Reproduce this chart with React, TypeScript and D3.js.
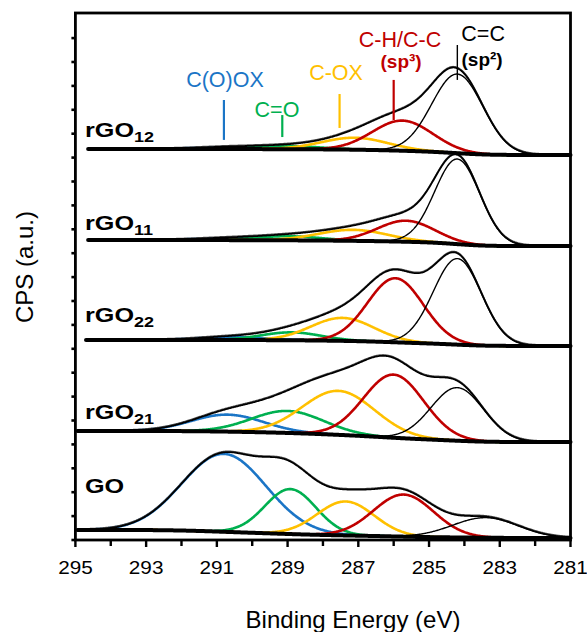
import React from 'react';
import * as d3 from 'd3';

const W = 587;
const H = 632;

// ---- axes data ----
const xDomain = [295, 281];
const xTickValues = [295, 294, 293, 292, 291, 290, 289, 288, 287, 286, 285, 284, 283, 282, 281];
const xTickLabels = [295, 293, 291, 289, 287, 285, 283, 281];
const yDomain = [0, 22.05];
const yTickValues = [0, 1, 2, 3, 4, 5, 6, 7, 8, 9, 10, 11, 12, 13, 14, 15, 16, 17, 18, 19, 20, 21];

// ---- components ----
const componentNames = ['C(O)OX', 'C=O', 'C-OX', 'C-H/C-C', 'C=C'];
const componentColors = ['#1b75c6', '#00b050', '#ffc000', '#c00000', '#000000'];

// ---- samples (bottom to top) ----
const sampleMain = ['GO', 'rGO', 'rGO', 'rGO', 'rGO'];
const sampleSub = ['', '21', '22', '11', '12'];
const sampleLabelY = [1.97, 5.06, 9.12, 12.97, 16.86];
const sampleStartBE = [294.95, 294.95, 294.7, 294.65, 294.65];
const bgHigh = [0.42, 4.56, 8.37, 12.55, 16.36];
const bgLow = [0.08, 4.1, 8.12, 12.3, 16.11];

const centersGO = [290.8, 288.92, 287.36, 285.72, 283.4];
const heightsGO = [3.26, 1.88, 1.42, 1.76, 0.84];
const fwhmGO = [2.8, 1.7, 1.9, 2.0, 2.2];

const centersRGO21 = [290.7, 289.0, 287.56, 286.0, 284.2];
const heightsRGO21 = [0.71, 0.92, 1.84, 2.64, 2.22];
const fwhmRGO21 = [2.4, 2.4, 2.4, 2.0, 1.75];

const centersRGO22 = [290.6, 288.9, 287.45, 285.95, 284.2];
const heightsRGO22 = [0.13, 0.33, 0.96, 2.68, 3.6];
const fwhmRGO22 = [2.2, 2.0, 2.1, 1.85, 1.6];

const centersRGO11 = [290.7, 289.0, 287.15, 285.65, 284.2];
const heightsRGO11 = [0.08, 0.17, 0.46, 0.88, 3.56];
const fwhmRGO11 = [2.2, 2.2, 2.3, 1.9, 1.5];

const centersRGO12 = [290.7, 289.0, 287.1, 285.75, 284.2];
const heightsRGO12 = [0.08, 0.13, 0.5, 1.26, 3.31];
const fwhmRGO12 = [2.2, 2.2, 2.2, 2.0, 1.7];

const sampleCenters = [centersGO, centersRGO21, centersRGO22, centersRGO11, centersRGO12];
const sampleHeights = [heightsGO, heightsRGO21, heightsRGO22, heightsRGO11, heightsRGO12];
const sampleFwhm = [fwhmGO, fwhmRGO21, fwhmRGO22, fwhmRGO11, fwhmRGO12];

// ---- annotations ----
const annotLabelBE = [290.77, 289.3, 287.63, 285.82, 283.47];
const annotLabelY = [18.95, 17.7, 19.25, 20.63, 20.88];
const annotLineBE = [290.8, 289.15, 287.53, 286.0, 284.2];
const annotLineY0 = [16.74, 16.86, 17.24, 17.57, 19.25];
const annotLineY1 = [18.41, 17.78, 18.66, 19.25, 20.71];
const annotSubText = ['', '', '', '(sp³)', '(sp²)'];
const annotSubBE = [0, 0, 0, 285.79, 283.5];
const annotSubY = [0, 0, 0, 19.75, 19.85];

const FONT = "'Liberation Sans', Arial, Helvetica, sans-serif";

const left = 75.4, right = 570.5, top = 13, bottom = 540;

function gauss(e: number, c: number, h: number, fw: number) {
  const s = fw / 2.3548;
  return h * Math.exp(-0.5 * ((e - c) / s) ** 2);
}

export default function App() {
  const x = d3.scaleLinear().domain(xDomain).range([left, right]);
  const y = d3.scaleLinear().domain(yDomain).range([bottom, top]);

  const line = d3
    .line<[number, number]>()
    .x((d) => x(d[0]))
    .y((d) => y(d[1]))
    .curve(d3.curveLinear);

  const panels = sampleMain.map((_, si) => {
    const grid = d3.range(281, sampleStartBE[si] + 1e-9, 0.02);
    const cs = sampleCenters[si], hs = sampleHeights[si], fs = sampleFwhm[si];
    const sum = grid.map((e) => cs.reduce((a, c, k) => a + gauss(e, c, hs[k], fs[k]), 0));
    const cum: number[] = [0];
    for (let i = 1; i < grid.length; i++) {
      cum.push(cum[i - 1] + ((sum[i] + sum[i - 1]) / 2) * (grid[i] - grid[i - 1]));
    }
    const tot = cum[cum.length - 1];
    const bg = grid.map((_, i) => bgLow[si] + (bgHigh[si] - bgLow[si]) * (cum[i] / tot));
    const comps = cs.map((c, k) =>
      grid.map((e, i) => [e, bg[i] + gauss(e, c, hs[k], fs[k])] as [number, number])
    );
    const env = grid.map((e, i) => [e, bg[i] + sum[i]] as [number, number]);
    const bgPts = grid.map((e, i) => [e, bg[i]] as [number, number]);
    return { comps, env, bgPts };
  });

  return (
    <svg width={W} height={H} style={{ display: 'block', position: 'absolute', left: 0, top: 0 }}>
      <rect width={W} height={H} fill="#fff" />
      {panels.map((p, si) => (
        <g key={si}>
          {p.comps.map((pts, k) => (
            <path
              key={k}
              d={line(pts) || ''}
              fill="none"
              stroke={componentColors[k]}
              strokeWidth={k === 4 ? 1.4 : 2.6}
            />
          ))}
          <path d={line(p.env) || ''} fill="none" stroke="#555" strokeWidth={1.2} transform="translate(0,-1)" />
          <path d={line(p.env) || ''} fill="none" stroke="#000" strokeWidth={1.8} />
          <path d={line(p.bgPts) || ''} fill="none" stroke="#000" strokeWidth={4} strokeLinecap="round" />
        </g>
      ))}

      {/* frame */}
      <rect x={left} y={top} width={right - left} height={bottom - top} fill="none" stroke="#000" strokeWidth={2.8} />

      {/* y ticks */}
      {yTickValues.map((v) => (
        <line key={v} x1={left} x2={left - 4} y1={y(v)} y2={y(v)} stroke="#000" strokeWidth={2.6} />
      ))}
      {/* x ticks */}
      {xTickValues.map((v) => (
        <line
          key={v}
          x1={x(v)}
          x2={x(v)}
          y1={bottom}
          y2={bottom + (v % 2 === 1 ? 7 : 6)}
          stroke="#000"
          strokeWidth={2.4}
        />
      ))}
      {xTickLabels.map((v) => (
        <text
          key={v}
          transform={`translate(${x(v)},574) scale(1.12,1)`}
          textAnchor="middle"
          fontFamily={FONT}
          fontSize={18.5}
          fill="#000"
        >
          {v}
        </text>
      ))}

      {/* axis titles */}
      <text x={353} y={628} textAnchor="middle" fontFamily={FONT} fontSize={24} fill="#000">
        Binding Energy (eV)
      </text>
      <text
        transform="translate(33,267) rotate(-90)"
        textAnchor="middle"
        fontFamily={FONT}
        fontSize={24}
        fill="#000"
      >
        CPS (a.u.)
      </text>

      {/* sample labels */}
      {sampleMain.map((m, si) => (
        <text
          key={si}
          transform={`translate(85,${y(sampleLabelY[si])}) scale(1.2,1)`}
          fontFamily={FONT}
          fontWeight="bold"
          fontSize={21}
          fill="#000"
        >
          {m}
          {sampleSub[si] && (
            <tspan fontSize={15} dy={5}>
              {sampleSub[si]}
            </tspan>
          )}
        </text>
      ))}

      {/* annotations */}
      {componentNames.map((n, k) => (
        <g key={n}>
          <line
            x1={x(annotLineBE[k])}
            x2={x(annotLineBE[k])}
            y1={y(annotLineY0[k])}
            y2={y(annotLineY1[k])}
            stroke={componentColors[k]}
            strokeWidth={k === 4 ? 1.4 : 2.2}
          />
          <text
            x={x(annotLabelBE[k])}
            y={y(annotLabelY[k])}
            textAnchor="middle"
            fontFamily={FONT}
            fontSize={21.5}
            fill={componentColors[k]}
          >
            {n}
          </text>
          {annotSubText[k] && (
            <text
              x={x(annotSubBE[k])}
              y={y(annotSubY[k])}
              textAnchor="middle"
              fontFamily={FONT}
              fontWeight="bold"
              fontSize={19}
              fill={componentColors[k]}
            >
              {annotSubText[k]}
            </text>
          )}
        </g>
      ))}
    </svg>
  );
}
